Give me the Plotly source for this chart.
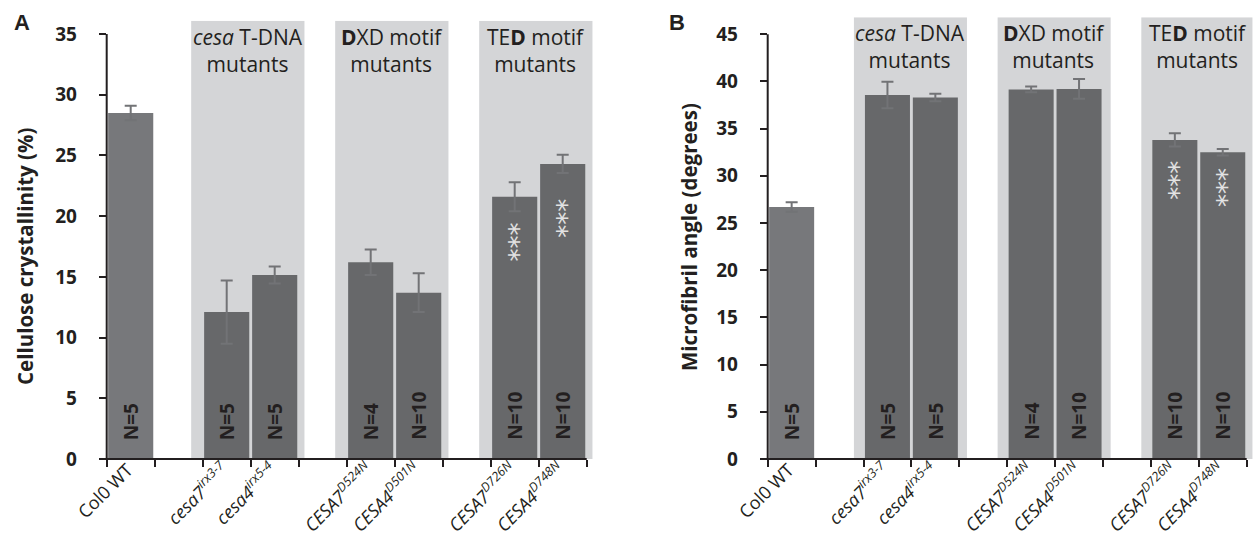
import plotly.graph_objects as go

# ---- data -------------------------------------------------------------
genotypes = [
    "Col0 WT",
    "<i>cesa7</i><sup><i>irx3-7</i></sup>",
    "<i>cesa4</i><sup><i>irx5-4</i></sup>",
    "<i>CESA7</i><sup><i>D524N</i></sup>",
    "<i>CESA4</i><sup><i>D501N</i></sup>",
    "<i>CESA7</i><sup><i>D726N</i></sup>",
    "<i>CESA4</i><sup><i>D748N</i></sup>",
]
crystallinity = [28.5, 12.1, 15.15, 16.2, 13.7, 21.6, 24.3]
crystallinity_err = [0.6, 2.6, 0.7, 1.05, 1.6, 1.2, 0.75]
mfa = [26.7, 38.55, 38.3, 39.15, 39.2, 33.8, 32.5]
mfa_err = [0.5, 1.4, 0.4, 0.3, 1.05, 0.7, 0.35]
n_plants = [5, 5, 5, 4, 10, 10, 10]
significance = ["", "", "", "", "", "***", "***"]

group_labels = [
    "<i>cesa</i> T-DNA<br>mutants",
    "<b>D</b>XD motif<br>mutants",
    "TE<b>D</b> motif<br>mutants",
]
group_members = [[1, 2], [3, 4], [5, 6]]

# axis slots: wild type, then each group separated by an empty slot
axis_order = [genotypes[0], " ", genotypes[1], genotypes[2], "  ",
              genotypes[3], genotypes[4], "   ", genotypes[5], genotypes[6]]

# ---- style --------------------------------------------------------------
W, H = 1255, 542
FONT = "Open Sans"
INK = "#231f20"
BAR_WT = "#77787b"
BAR_MUT = "#67686a"
SHADE = "#d4d5d7"
ERR = "#727376"
STAR = "#e2e2e2"

bar_colors = [BAR_WT] + [BAR_MUT] * (len(genotypes) - 1)

panels = [
    dict(key="", letter="A", values=crystallinity, errs=crystallinity_err,
         title="Cellulose crystallinity (%)", ymax=35, ytop=36.1,
         x0px=106.7, slot=48.0, xr=9.65, zero_px=459, top_px=20.7,
         box=(-0.74, 0.62), title_x=25, title_y=256, letter_x=12,
         star_gap=[0, 0, 0, 0, 0, 45, 54]),
    dict(key="2", letter="B", values=mfa, errs=mfa_err,
         title="Microfibril angle (degrees)", ymax=45, ytop=46.8,
         x0px=767.7, slot=47.9, xr=9.62, zero_px=459, top_px=17.2,
         box=(-0.70, 0.66), title_x=689, title_y=237, letter_x=667,
         star_gap=[0, 0, 0, 0, 0, 40, 35]),
]

fig = go.Figure()
layout = dict(
    width=W, height=H, margin=dict(l=0, r=0, t=0, b=0, autoexpand=False),
    paper_bgcolor="white", plot_bgcolor="rgba(0,0,0,0)",
    showlegend=False, bargap=0.06,
    font=dict(family=FONT, color=INK),
)
shapes, annotations = [], []

for p in panels:
    k = p["key"]
    xa, ya = "x" + k, "y" + k
    xdom = [p["x0px"] / W, (p["x0px"] + (p["xr"] + 0.5) * p["slot"]) / W]
    ydom = [(H - p["zero_px"]) / H, (H - p["top_px"]) / H]

    fig.add_trace(go.Bar(
        x=genotypes, y=p["values"], xaxis=xa, yaxis=ya,
        marker=dict(color=bar_colors, line=dict(width=0)),
        error_y=dict(type="data", array=p["errs"], color=ERR,
                     thickness=2, width=6),
        hoverinfo="skip",
    ))

    layout["xaxis" + k] = dict(
        domain=xdom, anchor=ya, type="category", automargin=False,
        categoryorder="array", categoryarray=axis_order,
        range=[-0.5, p["xr"]], tickson="boundaries",
        ticks="outside", ticklen=7, tickwidth=2, tickcolor=INK,
        tickangle=-45, ticklabelstandoff=-4, ticklabelshift=-3,
        tickfont=dict(family=FONT, size=18, color=INK),
        showline=False, showgrid=False, zeroline=False,
    )
    layout["yaxis" + k] = dict(
        domain=ydom, anchor=xa, range=[0, p["ytop"]], automargin=False,
        tickmode="array", tickvals=list(range(0, p["ymax"] + 1, 5)),
        ticks="outside", ticklen=7, tickwidth=2, tickcolor=INK,
        ticklabelstandoff=18,
        tickfont=dict(family=FONT, size=19, color=INK, weight="bold"),
        showline=False, showgrid=False, zeroline=False,
    )

    # shaded group backgrounds
    for members, label in zip(group_members, group_labels):
        i0 = axis_order.index(genotypes[members[0]])
        i1 = axis_order.index(genotypes[members[-1]])
        shapes.append(dict(
            type="rect", xref=xa, yref=ya, layer="below",
            x0=i0 + p["box"][0], x1=i1 + p["box"][1], y0=0, y1=p["ytop"],
            fillcolor=SHADE, line=dict(width=0),
        ))
        annotations.append(dict(
            xref=xa, yref="paper", x=(i0 + i1) / 2 + (p["box"][0] + p["box"][1]) / 2,
            y=(H - p["top_px"]) / H, yanchor="top", xanchor="center",
            text=label, showarrow=False, align="center",
            font=dict(family=FONT, size=21, color=INK),
        ))

    # axis lines: x spans the ten slots, y stops at the top tick
    px_per_unit = (p["zero_px"] - p["top_px"]) / p["ytop"]
    y_axis_top = (H - p["zero_px"] + p["ymax"] * px_per_unit) / H
    x_axis_end = (p["x0px"] + 10 * p["slot"]) / W
    shapes.append(dict(type="line", xref="paper", yref="paper", layer="above",
                       x0=xdom[0], x1=xdom[0], y0=ydom[0] - 1 / H, y1=y_axis_top,
                       line=dict(color=INK, width=2)))
    shapes.append(dict(type="line", xref="paper", yref="paper", layer="above",
                       x0=xdom[0] - 1 / W, x1=x_axis_end, y0=ydom[0], y1=ydom[0],
                       line=dict(color=INK, width=2)))

    # sample sizes and significance marks inside the bars
    for g, v, n, s, gap in zip(genotypes, p["values"], n_plants,
                               significance, p["star_gap"]):
        annotations.append(dict(
            xref=xa, yref=ya, x=g, y=0, yanchor="bottom", yshift=17,
            text=f"<b>N={n}</b>", textangle=-90, showarrow=False,
            font=dict(family=FONT, size=19, color=INK),
        ))
        if s:
            # the marks run down the bar as one rotated string
            annotations.append(dict(
                xref=xa, yref=ya, x=g, y=v, yanchor="middle",
                yshift=-gap, xshift=4, textangle=-90,
                text=s, showarrow=False,
                font=dict(family="DejaVu Sans", size=26, color=STAR),
            ))

    # axis title and panel letter
    annotations.append(dict(
        xref="paper", yref="paper", x=p["title_x"] / W, y=(H - p["title_y"]) / H,
        xanchor="center", yanchor="middle", text=f"<b>{p['title']}</b>",
        textangle=-90, showarrow=False,
        font=dict(family=FONT, size=20.5, color=INK),
    ))
    annotations.append(dict(
        xref="paper", yref="paper", x=p["letter_x"] / W, y=(H - 8) / H,
        xanchor="left", yanchor="top", text=f"<b>{p['letter']}</b>",
        showarrow=False, font=dict(family="Liberation Sans", size=22, color=INK),
    ))

layout["shapes"] = shapes
layout["annotations"] = annotations
fig.update_layout(**layout)
fig.write_html("out.html")
